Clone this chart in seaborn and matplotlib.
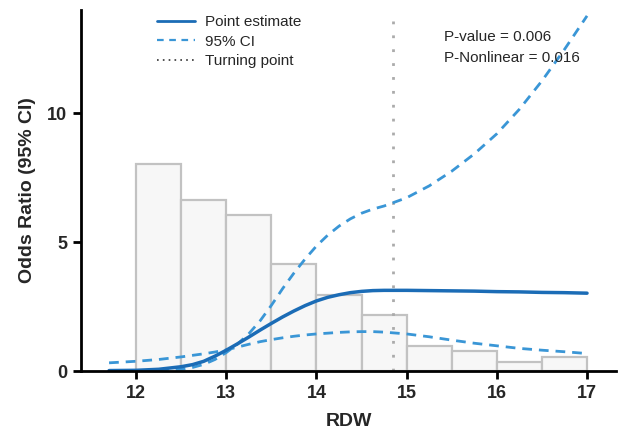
import numpy as np
import pandas as pd
import seaborn as sns
import matplotlib.pyplot as plt
from matplotlib.lines import Line2D

# ---- data ----
bin_left = [12.0, 12.5, 13.0, 13.5, 14.0, 14.5, 15.0, 15.5, 16.0, 16.5]
bin_height = [8.02, 6.65, 6.04, 4.14, 2.96, 2.17, 0.97, 0.79, 0.34, 0.53]

rdw = [11.7, 12.0, 12.25, 12.5, 12.625, 12.75, 12.875, 13.0, 13.125, 13.25,
       13.375, 13.5, 13.625, 13.75, 13.875, 14.0, 14.125, 14.25, 14.375, 14.5,
       14.625, 14.75, 15.0, 15.25, 15.5, 15.75, 16.0, 16.25, 16.5, 16.75, 17.0]
or_est = [0.02, 0.03, 0.07, 0.17, 0.25, 0.38, 0.58, 0.81, 1.06, 1.32,
          1.59, 1.85, 2.10, 2.33, 2.54, 2.72, 2.86, 2.96, 3.04, 3.09,
          3.12, 3.13, 3.13, 3.12, 3.11, 3.10, 3.08, 3.07, 3.05, 3.04, 3.02]
ci_upper = [0.00, 0.00, 0.01, 0.07, 0.14, 0.26, 0.45, 0.72, 1.05, 1.45,
            1.95, 2.55, 3.20, 3.80, 4.35, 4.85, 5.27, 5.62, 5.90, 6.12,
            6.28, 6.40, 6.72, 7.18, 7.75, 8.42, 9.20, 10.15, 11.25, 12.47, 13.77]
ci_lower = [0.32, 0.38, 0.45, 0.55, 0.61, 0.67, 0.74, 0.82, 0.93, 1.04,
            1.14, 1.22, 1.29, 1.35, 1.40, 1.44, 1.47, 1.50, 1.52, 1.53,
            1.53, 1.51, 1.44, 1.33, 1.20, 1.08, 0.98, 0.88, 0.81, 0.75, 0.68]

turning_point = 14.85
p_value = "0.006"
p_nonlinear = "0.016"

x_ticks = [12, 13, 14, 15, 16, 17]
y_ticks = [0, 5, 10]

# ---- style ----
sns.set_style("white")
plt.rcParams["font.family"] = ["Liberation Sans", "DejaVu Sans"]

solid_c = "#1b6cb6"
dash_c = "#3a96d6"

fig = plt.figure(figsize=(6.24, 4.32), dpi=100)
ax = fig.add_axes([0.13, 0.141, 0.857, 0.836])

bw = bin_left[1] - bin_left[0]
hist_df = pd.DataFrame({"x": np.array(bin_left) + bw / 2, "w": bin_height})
sns.histplot(data=hist_df, x="x", weights="w",
             bins=list(bin_left) + [bin_left[-1] + bw],
             color="#f7f7f7", edgecolor="#c2c2c2", linewidth=1.6, alpha=1,
             ax=ax)

df = pd.DataFrame({"rdw": rdw, "est": or_est, "up": ci_upper, "lo": ci_lower})
dash_style = (0, (3.5, 2.5))
sns.lineplot(data=df, x="rdw", y="up", color=dash_c, lw=2, linestyle=dash_style, ax=ax)
sns.lineplot(data=df, x="rdw", y="lo", color=dash_c, lw=2, linestyle=dash_style, ax=ax)
sns.lineplot(data=df, x="rdw", y="est", color=solid_c, lw=2.5, ax=ax)

ax.axvline(turning_point, color="#ababab", lw=2, linestyle=(0, (1, 4)), zorder=1.5)

ax.set_xlim(11.39, 17.32)
ax.set_ylim(0, 14)
ax.set_xticks(x_ticks)
ax.set_yticks(y_ticks)
ax.set_xticklabels([str(t) for t in x_ticks], fontweight="bold", fontsize=13)
ax.set_yticklabels([str(t) for t in y_ticks], fontweight="bold", fontsize=13)
ax.set_xlabel("RDW", fontweight="bold", fontsize=14, labelpad=8)
ax.set_ylabel("Odds Ratio (95% CI)", fontweight="bold", fontsize=14, labelpad=8)

for s in ["top", "right"]:
    ax.spines[s].set_visible(False)
for s in ["left", "bottom"]:
    ax.spines[s].set_linewidth(2.0)
    ax.spines[s].set_color("black")
ax.tick_params(axis="both", direction="out", length=6, width=2, color="black",
               bottom=True, left=True, pad=4)

handles = [
    Line2D([], [], color=solid_c, lw=2),
    Line2D([], [], color=dash_c, lw=1.6, linestyle=(0, (3, 2.5))),
    Line2D([], [], color="#333333", lw=1.2, linestyle=(0, (1, 2.5))),
]
labels = ["Point estimate", "95% CI", "Turning point"]
ax.legend(handles, labels, loc="upper left", bbox_to_anchor=(0.142, 0.985),
          frameon=False, fontsize=11, handlelength=2.5, handletextpad=0.65,
          labelspacing=0.35, borderpad=0, borderaxespad=0)

ax.text(0.678, 0.915, f"P-value = {p_value}", transform=ax.transAxes,
        fontsize=11, ha="left", va="baseline")
ax.text(0.678, 0.855, f"P-Nonlinear = {p_nonlinear}", transform=ax.transAxes,
        fontsize=11, ha="left", va="baseline")

fig.savefig("out.png", dpi=100)
